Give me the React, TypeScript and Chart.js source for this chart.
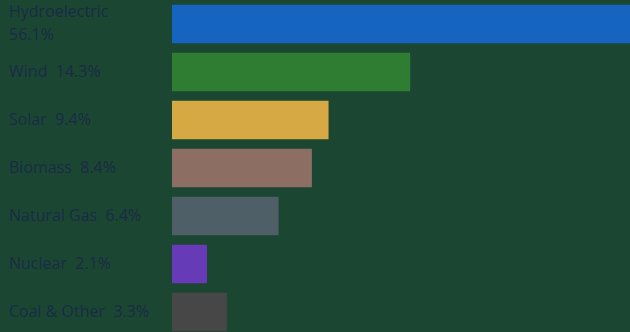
import React, { useEffect, useRef } from "react";
import { Chart, registerables } from "chart.js";

Chart.register(...registerables);

const categories = ["Hydroelectric", "Wind", "Solar", "Biomass", "Natural Gas", "Nuclear", "Coal & Other"];
const shares = [56.1, 14.3, 9.4, 8.4, 6.4, 2.1, 3.3];
const tickLabels: (string | string[])[] = [
  ["Hydroelectric", "56.1%"],
  "Wind  14.3%",
  "Solar  9.4%",
  "Biomass  8.4%",
  "Natural Gas  6.4%",
  "Nuclear  2.1%",
  "Coal & Other  3.3%",
];
const barColors = ["#1565c0", "#2e7d32", "#d6a945", "#8d6e63", "#4e5f68", "#673ab7", "#474747"];

export default function App() {
  const ref = useRef<HTMLCanvasElement>(null);
  useEffect(() => {
    document.body.style.margin = "0";
    document.body.style.background = "#1b4632";
    document.body.style.overflow = "hidden";
    const chart = new Chart(ref.current!, {
      type: "bar",
      data: {
        labels: categories,
        datasets: [
          {
            data: shares,
            backgroundColor: barColors,
            borderWidth: 0,
            barPercentage: 0.8,
            categoryPercentage: 1,
          },
        ],
      },
      options: {
        indexAxis: "y",
        animation: false,
        responsive: false,
        maintainAspectRatio: false,
        layout: { padding: { left: 9, right: 0, top: 0, bottom: 0 } },
        plugins: { legend: { display: false }, tooltip: { enabled: false } },
        scales: {
          x: {
            display: false,
            min: 0,
            max: 27.5,
          },
          y: {
            grid: { display: false },
            border: { display: false },
            afterFit: (s: any) => {
              s.width = 163;
              s.paddingTop = 0;
              s.paddingBottom = 0;
            },
            ticks: {
              autoSkip: false,
              crossAlign: "far",
              padding: 0,
              color: "#1a2a48",
              font: { family: "'Open Sans'", size: 16, lineHeight: 1.4 },
              callback: (_v: any, i: number) => tickLabels[i],
            },
          },
        },
      },
    });
    return () => chart.destroy();
  }, []);
  return (
    <div style={{ width: 630, height: 332, overflow: "hidden", background: "#1b4632" }}>
      <canvas ref={ref} width={630} height={336} style={{ display: "block" }} />
    </div>
  );
}
